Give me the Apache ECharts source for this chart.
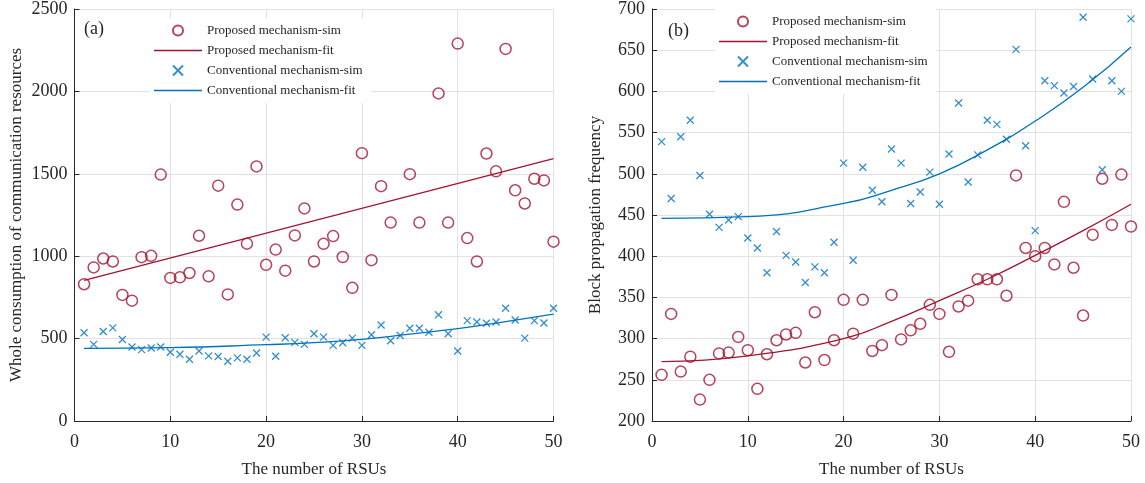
<!DOCTYPE html>
<html>
<head>
<meta charset="utf-8">
<script src="https://cdn.jsdelivr.net/npm/echarts@6/dist/echarts.min.js"></script>
<style>
  html, body { margin: 0; padding: 0; background: #fff; }
  #chart { width: 1145px; height: 483px; }
</style>
</head>
<body>
<div id="chart"></div>
<script>
// number of RSUs
const rsu = [1,2,3,4,5,6,7,8,9,10,11,12,13,14,15,16,17,18,19,20,21,22,23,24,25,
  26,27,28,29,30,31,32,33,34,35,36,37,38,39,40,41,42,43,44,45,46,47,48,49,50]

// (a) whole consumption of communication resources
const propSimA = [830,932,986,968,765,730,994,1002,1495,868,872,898,1124,878,1428,768,1313,1076,1545,948,
  1040,912,1126,1290,968,1075,1122,995,808,1625,976,1425,1204,null,1498,1204,null,1988,1204,2290,
  1110,968,1623,1515,2258,1400,1320,1470,1460,1088]
const convSimA = [535,465,543,565,495,449,433,443,449,417,405,375,425,395,391,363,383,375,413,509,
  393,505,477,465,529,509,459,475,503,459,523,583,487,519,563,563,539,645,529,425,
  609,601,593,601,684,613,503,609,595,684]
const propFitAx = [1, 50]
const propFitAy = [854, 1592]
const convFitAx = [1, 10, 20, 25, 30, 35, 40, 45, 50]
const convFitAy = [441, 445, 463, 475, 495, 527, 560, 603, 649]

// (b) block propagation frequency
const propSimB = [256,330,260,278,226,250,282,283,302,286,239,281,298,305,307,271,332,274,298,347,
  306,347,285,292,353,299,310,318,341,330,284,339,346,372,372,372,352,498,410,400,
  410,390,466,386,328,426,494,438,499,436]
const convSimB = [539,470,545,565,498,451,435,444,448,422,410,380,430,401,393,368,387,380,417,513,
  395,508,480,466,530,513,464,478,502,463,524,586,490,523,565,560,542,651,534,431,
  613,607,598,606,690,615,505,613,600,688]
const propFitBx = [1, 10, 20, 25, 30, 35, 40, 45, 50]
const propFitBy = [272, 279, 300, 321, 346, 372, 401, 431, 463]
const convFitBx = [1, 10, 20, 25, 30, 35, 40, 45, 50]
const convFitBy = [446, 448, 464, 480, 500, 529, 564, 605, 654]

const names = ['Proposed mechanism-sim', 'Proposed mechanism-fit', 'Conventional mechanism-sim', 'Conventional mechanism-fit']

const RED = '#A2142F'
const BLUE = '#0072BD'
const FONT = '"Liberation Serif", "Times New Roman", serif'
const CROSS = 'path://M0,0L10,10M10,0L0,10'
// thin bar used as legend icon for the fitted curves (just a line)
const BAR = 'path://M0,0H48V1.3H0Z'

const pairs = (xs, ys) => xs.map((x, i) => [x, ys[i]])

const xAxisBase = (gridIndex) => ({
  type: 'value',
  gridIndex,
  min: 0,
  max: 50,
  interval: 10,
  name: 'The number of RSUs',
  nameLocation: 'middle',
  nameGap: 40,
  nameTextStyle: { fontFamily: FONT, fontSize: 17, color: '#262626' },
  axisLine: { lineStyle: { color: '#262626', width: 1 } },
  axisTick: { inside: true, length: 5, lineStyle: { color: '#262626' } },
  axisLabel: { fontFamily: FONT, fontSize: 18, color: '#262626', margin: 12 },
  splitLine: { show: true, lineStyle: { color: '#e2e2e2', width: 1 } }
})

const yAxisBase = (gridIndex, min, max, interval, name, gap) => ({
  type: 'value',
  gridIndex,
  min, max, interval,
  name,
  nameLocation: 'middle',
  nameGap: gap,
  nameTextStyle: { fontFamily: FONT, fontSize: 17, color: '#262626' },
  axisLine: { show: true, lineStyle: { color: '#262626', width: 1 } },
  axisTick: { show: true, inside: true, length: 5, lineStyle: { color: '#262626' } },
  axisLabel: { fontFamily: FONT, fontSize: 18, color: '#262626', margin: 7, formatter: v => String(v) },
  splitLine: { show: true, lineStyle: { color: '#e2e2e2', width: 1 } }
})

const simCircle = (idx, data) => ({
  name: names[0], type: 'scatter', xAxisIndex: idx, yAxisIndex: idx,
  data: data.map((v, i) => [rsu[i], v]).filter(d => d[1] !== null),
  symbol: 'circle', symbolSize: 11,
  itemStyle: { color: 'rgba(0,0,0,0)', borderColor: RED, borderWidth: 1.5 },
  z: 3
})
const simCross = (idx, data) => ({
  name: names[2], type: 'scatter', xAxisIndex: idx, yAxisIndex: idx,
  data: data.map((v, i) => [rsu[i], v]),
  symbol: CROSS, symbolSize: 7, symbolKeepAspect: true,
  itemStyle: { color: 'rgba(0,0,0,0)', borderColor: BLUE, borderWidth: 1.3 },
  z: 3
})
const fitLine = (idx, name, color, data) => ({
  name, type: 'line', xAxisIndex: idx, yAxisIndex: idx,
  data, smooth: 0.5, symbol: 'none', showSymbol: false, symbolKeepAspect: true,
  lineStyle: { color, width: 1.3 }, itemStyle: { color },
  z: 4
})

const legendBase = (left, top) => ({
  orient: 'vertical',
  left, top,
  data: [
    { name: names[0] },
    { name: names[1], icon: BAR },
    { name: names[2] },
    { name: names[3], icon: BAR }
  ],
  itemWidth: 48,
  itemHeight: 10,
  itemGap: 7,
  padding: [6, 8, 6, 4],
  backgroundColor: '#ffffff',
  textStyle: { fontFamily: FONT, fontSize: 13, color: '#262626' },
  selectedMode: false
})

const chart = echarts.init(document.getElementById('chart'))
chart.setOption({
  backgroundColor: '#ffffff',
  animation: false,
  title: [
    { text: '(a)', left: 79, top: 15, textStyle: { fontFamily: FONT, fontSize: 18, fontWeight: 'normal', color: '#262626' } },
    { text: '(b)', left: 663, top: 17, textStyle: { fontFamily: FONT, fontSize: 18, fontWeight: 'normal', color: '#262626' } }
  ],
  legend: [legendBase(150, 18), legendBase(715, 9)],
  grid: [
    { left: 74.5, right: 591.5, top: 7.5, bottom: 58 },
    { left: 652, right: 14, top: 7.5, bottom: 57 }
  ],
  xAxis: [xAxisBase(0), xAxisBase(1)],
  yAxis: [
    yAxisBase(0, 0, 2500, 500, 'Whole consumption of communication resources', 49),
    yAxisBase(1, 200, 700, 50, 'Block propagation frequency', 48)
  ],
  series: [
    simCircle(0, propSimA),
    fitLine(0, names[1], RED, pairs(propFitAx, propFitAy)),
    simCross(0, convSimA),
    fitLine(0, names[3], BLUE, pairs(convFitAx, convFitAy)),
    simCircle(1, propSimB),
    fitLine(1, names[1], RED, pairs(propFitBx, propFitBy)),
    simCross(1, convSimB),
    fitLine(1, names[3], BLUE, pairs(convFitBx, convFitBy))
  ]
})
</script>
</body>
</html>
